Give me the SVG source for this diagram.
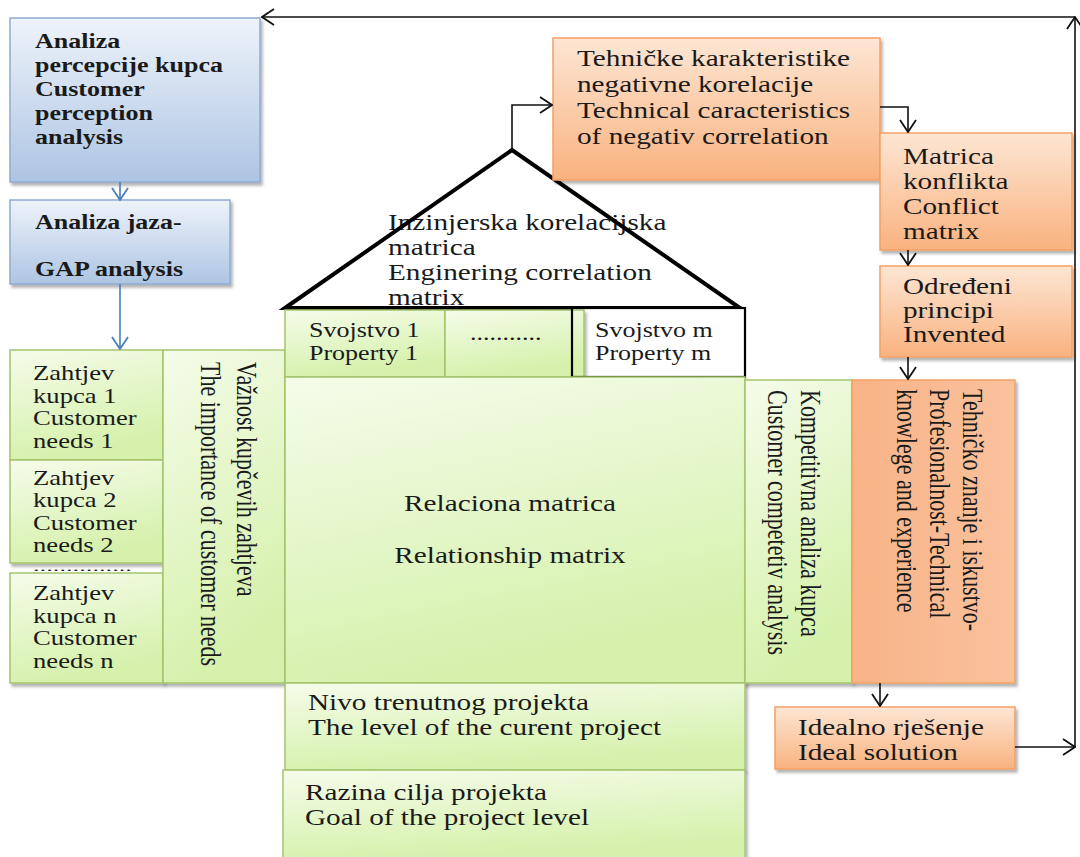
<svg xmlns="http://www.w3.org/2000/svg" width="1080" height="857" viewBox="0 0 1080 857">
<style>
text{font-family:"Liberation Serif","Times New Roman",serif;fill:#1a1a1a}
.tb{font-size:20px;font-weight:bold}
.t20{font-size:20px}
.t21{font-size:20.5px}
.t22{font-size:22.5px}
.tv{font-size:22px}
.blue{fill:url(#gb);stroke:#8eaad0;stroke-width:1.5}
.green{fill:url(#gg);stroke:#a5c46c;stroke-width:1.5}
.orange{fill:url(#go);stroke:#f3a063;stroke-width:1.5}
.bl{fill:none;stroke:#111;stroke-width:1.6}
.blu{fill:none;stroke:#4a7ebb;stroke-width:1.6}
</style>
<defs>
<linearGradient id="gb" x1="0" y1="0" x2="0" y2="1"><stop offset="0" stop-color="#eef3fa"/><stop offset="1" stop-color="#adc5e3"/></linearGradient>
<linearGradient id="gg" x1="0" y1="0" x2="0.3" y2="1"><stop offset="0" stop-color="#f5fcea"/><stop offset="1" stop-color="#d5f1ab"/></linearGradient>
<linearGradient id="go" x1="0" y1="0" x2="0" y2="1"><stop offset="0" stop-color="#fde6d4"/><stop offset="1" stop-color="#f9b27f"/></linearGradient>
<linearGradient id="go2" x1="0" y1="0" x2="1" y2="0"><stop offset="0" stop-color="#f8b387"/><stop offset="1" stop-color="#fac29d"/></linearGradient>
<filter id="sh" x="-5%" y="-5%" width="115%" height="115%"><feDropShadow dx="2" dy="3" stdDeviation="1.5" flood-color="#000" flood-opacity="0.3"/></filter>
<marker id="ak" viewBox="0 0 14 18" refX="13" refY="9" markerWidth="14" markerHeight="18" markerUnits="userSpaceOnUse" orient="auto"><path d="M1,1 L13,9 L1,17" fill="none" stroke="#111" stroke-width="1.8"/></marker>
<marker id="ab" viewBox="0 0 14 18" refX="13" refY="9" markerWidth="14" markerHeight="18" markerUnits="userSpaceOnUse" orient="auto"><path d="M1,1 L13,9 L1,17" fill="none" stroke="#4a7ebb" stroke-width="1.8"/></marker>
</defs>
<rect width="1080" height="857" fill="#fff"/>

<g id="n-customer-perception">
<rect class="blue" x="10" y="18" width="250" height="164" filter="url(#sh)"/>
<text class="tb" transform="translate(35,48) scale(1.3,1)"><tspan x="0" y="0">Analiza</tspan><tspan x="0" y="24">percepcije kupca</tspan><tspan x="0" y="48">Customer</tspan><tspan x="0" y="72">perception</tspan><tspan x="0" y="96">analysis</tspan></text>
</g>
<g id="n-gap">
<rect class="blue" x="10" y="200" width="220" height="84" filter="url(#sh)"/>
<text class="tb" transform="translate(35,229) scale(1.3,1)"><tspan x="0" y="0">Analiza jaza-</tspan><tspan x="0" y="47">GAP analysis</tspan></text>
</g>

<g id="n-need1">
<rect class="green" x="10" y="350" width="153" height="110" filter="url(#sh)"/>
<text class="t21" transform="translate(33,380) scale(1.3,1)"><tspan x="0" y="0">Zahtjev</tspan><tspan x="0" y="23">kupca 1</tspan><tspan x="0" y="45.5">Customer</tspan><tspan x="0" y="68">needs 1</tspan></text>
</g>
<g id="n-need2">
<rect class="green" x="10" y="460" width="153" height="103" filter="url(#sh)"/>
<text class="t21" transform="translate(33,485) scale(1.3,1)"><tspan x="0" y="0">Zahtjev</tspan><tspan x="0" y="22.5">kupca 2</tspan><tspan x="0" y="45">Customer</tspan><tspan x="0" y="67">needs 2</tspan></text>
<text style="font-size:12px" transform="translate(33,571) scale(2.2,1)">...............</text>
</g>
<g id="n-needn">
<rect class="green" x="10" y="573" width="153" height="110" filter="url(#sh)"/>
<text class="t21" transform="translate(33,600) scale(1.3,1)"><tspan x="0" y="0">Zahtjev</tspan><tspan x="0" y="23">kupca n</tspan><tspan x="0" y="45.5">Customer</tspan><tspan x="0" y="68">needs n</tspan></text>
</g>
<g id="n-importance">
<rect class="green" x="163" y="350" width="122" height="333" filter="url(#sh)"/>
<text class="tv" transform="translate(237,362) scale(1.3,1) rotate(90)"><tspan x="0" y="0">Važnost kupčevih zahtjeva</tspan><tspan x="0" y="27.5">The importance of customer needs</tspan></text>
</g>

<g id="n-roof">
<polygon points="285,308 512,150 740,308" fill="#fff" stroke="none"/>
<text class="t22" transform="translate(388,230) scale(1.3,1)"><tspan x="0" y="0">Inzinjerska korelacijska</tspan><tspan x="0" y="25">matrica</tspan><tspan x="0" y="50">Enginering correlation</tspan><tspan x="0" y="75">matrix</tspan></text>
<polygon points="285,308 512,150 740,308" fill="none" stroke="#000" stroke-width="4" stroke-linejoin="miter"/>
</g>

<g id="n-prop1">
<rect class="green" x="285" y="310" width="160" height="67" filter="url(#sh)"/>
<text class="t20" transform="translate(309,337) scale(1.3,1)"><tspan x="0" y="0">Svojstvo 1</tspan><tspan x="0" y="23">Property 1</tspan></text>
</g>
<g id="n-propdots">
<rect x="572" y="308" width="173" height="69" fill="#fff"/>
<rect class="green" x="445" y="310" width="139" height="67" filter="url(#sh)"/>
<text class="t20" transform="translate(470,340) scale(1.3,1)">...........</text>
</g>
<g id="n-propm">
<rect x="572" y="308" width="173" height="69" fill="none" stroke="#000" stroke-width="2.2"/>
<text class="t20" transform="translate(595,337) scale(1.3,1)"><tspan x="0" y="0">Svojstvo m</tspan><tspan x="0" y="23">Property m</tspan></text>
</g>

<g id="n-relationship">
<rect class="green" x="285" y="377" width="460" height="306" filter="url(#sh)"/>
<text class="t22" text-anchor="middle" transform="translate(510,511) scale(1.3,1)"><tspan x="0" y="0">Relaciona matrica</tspan><tspan x="0" y="52">Relationship matrix</tspan></text>
</g>
<g id="n-competitive">
<rect class="green" x="745" y="380" width="107" height="303" filter="url(#sh)"/>
<text class="tv" transform="translate(801,390) scale(1.3,1) rotate(90)"><tspan x="0" y="0">Kompetitivna analiza kupca</tspan><tspan x="0" y="25.4">Customer competetiv analysis</tspan></text>
</g>
<g id="n-knowledge">
<rect x="852" y="380" width="163" height="303" fill="url(#go2)" stroke="#f3a063" stroke-width="1.5" filter="url(#sh)"/>
<text class="tv" transform="translate(963,389) scale(1.3,1) rotate(90)"><tspan x="0" y="0">Tehničko znanje i iskustvo-</tspan><tspan x="0" y="25.4">Profesionalnost-Technical</tspan><tspan x="0" y="50.8">knowlege and experience</tspan></text>
</g>

<g id="n-current">
<rect class="green" x="285" y="683" width="460" height="87" filter="url(#sh)"/>
<text class="t22" transform="translate(308,710) scale(1.3,1)"><tspan x="0" y="0">Nivo trenutnog projekta</tspan><tspan x="0" y="25">The level of the curent project</tspan></text>
</g>
<g id="n-goal">
<rect class="green" x="283" y="770" width="462" height="90" filter="url(#sh)"/>
<text class="t22" transform="translate(305,800) scale(1.3,1)"><tspan x="0" y="0">Razina cilja projekta</tspan><tspan x="0" y="25">Goal of the project level</tspan></text>
</g>

<g id="n-negcorr">
<rect class="orange" x="553" y="38" width="327" height="142" filter="url(#sh)"/>
<text class="t22" transform="translate(577,66) scale(1.3,1)"><tspan x="0" y="0">Tehničke karakteristike</tspan><tspan x="0" y="26">negativne korelacije</tspan><tspan x="0" y="52">Technical caracteristics</tspan><tspan x="0" y="78">of negativ correlation</tspan></text>
</g>
<g id="n-conflict">
<rect class="orange" x="880" y="133" width="192" height="117" filter="url(#sh)"/>
<text class="t22" transform="translate(903,164) scale(1.3,1)"><tspan x="0" y="0">Matrica</tspan><tspan x="0" y="25">konflikta</tspan><tspan x="0" y="50">Conflict</tspan><tspan x="0" y="75">matrix</tspan></text>
</g>
<g id="n-principles">
<rect class="orange" x="880" y="266" width="192" height="91" filter="url(#sh)"/>
<text class="t22" transform="translate(903,294) scale(1.3,1)"><tspan x="0" y="0">Određeni</tspan><tspan x="0" y="24">principi</tspan><tspan x="0" y="48">Invented</tspan></text>
</g>
<g id="n-ideal">
<rect class="orange" x="775" y="707" width="240" height="62" filter="url(#sh)"/>
<text class="t22" transform="translate(798,735) scale(1.3,1)"><tspan x="0" y="0">Idealno rješenje</tspan><tspan x="0" y="25">Ideal solution</tspan></text>
</g>

<g id="connectors">
<path class="blu" d="M120,182 V200" marker-end="url(#ab)"/>
<path class="blu" d="M120,284 V349" marker-end="url(#ab)"/>
<path class="bl" d="M512,150 V105 H552" marker-end="url(#ak)"/>
<path class="bl" d="M880,107 H908 V132" marker-end="url(#ak)"/>
<path class="bl" d="M908,250 V265" marker-end="url(#ak)"/>
<path class="bl" d="M908,357 V379" marker-end="url(#ak)"/>
<path class="bl" d="M880,683 V706" marker-end="url(#ak)"/>
<path class="bl" d="M1015,747 H1075" marker-end="url(#ak)"/>
<path class="bl" d="M1075,747 V17" marker-end="url(#ak)"/>
<path class="bl" d="M1075,17 H262" marker-end="url(#ak)"/>
</g>
</svg>
